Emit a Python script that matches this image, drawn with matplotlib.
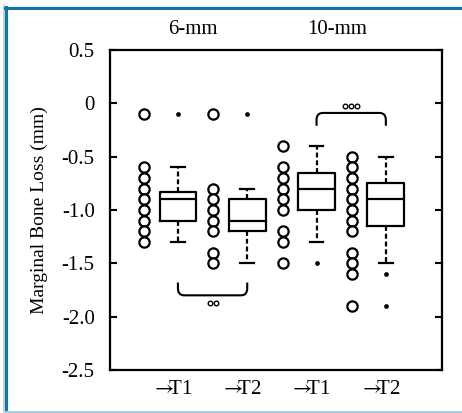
import matplotlib
matplotlib.use("Agg")
import matplotlib.pyplot as plt
from matplotlib.path import Path
from matplotlib.patches import PathPatch
from matplotlib.lines import Line2D

plt.rcParams['font.family'] = ['Liberation Serif', 'DejaVu Serif']
plt.rcParams['mathtext.fontset'] = 'stix'

# ---- data ----
groups = ["6-mm", "10-mm"]
tick_labels = [r"$\rightarrow\!\!\!$T1", r"$\rightarrow\!\!\!$T2",
               r"$\rightarrow\!\!\!$T1", r"$\rightarrow\!\!\!$T2"]

# raw value dot columns (open circles)
dots_6_T1 = [-0.1, -0.6, -0.7, -0.8, -0.9, -1.0, -1.1, -1.2, -1.3]
dots_6_T2 = [-0.1, -0.8, -0.9, -1.0, -1.1, -1.2, -1.4, -1.5]
dots_10_T1 = [-0.4, -0.6, -0.7, -0.8, -0.9, -1.0, -1.2, -1.3, -1.5]
dots_10_T2 = [-0.5, -0.6, -0.7, -0.8, -0.9, -1.0, -1.1, -1.2, -1.4, -1.5, -1.6, -1.9]

# box statistics: whislo, q1, med, q3, whishi, fliers
box_whislo = [-1.3, -1.5, -1.3, -1.5]
box_q1 = [-1.10, -1.20, -1.00, -1.15]
box_med = [-0.90, -1.10, -0.80, -0.90]
box_q3 = [-0.83, -0.90, -0.65, -0.75]
box_whishi = [-0.60, -0.80, -0.40, -0.50]
box_fliers = [[-0.1], [-0.1], [-1.5], [-1.6, -1.9]]

# significance marks (number of small circles)
sig_6_count = 2
sig_10_count = 3

yticks = [0.5, 0, -0.5, -1.0, -1.5, -2.0, -2.5]
ytick_labels = ["0.5", "0", "-0.5", "-1.0", "-1.5", "-2.0", "-2.5"]

# ---- figure ----
fig = plt.figure(figsize=(4.62, 4.13), dpi=100)
ax = fig.add_axes([110/462, 1-370/413, 332/462, 320/413])

positions = [1, 2, 3, 4]
dot_offset = 0.49
stats = []
for i in range(4):
    stats.append(dict(whislo=box_whislo[i], q1=box_q1[i], med=box_med[i],
                      q3=box_q3[i], whishi=box_whishi[i], fliers=box_fliers[i]))

lw = 1.6
ax.bxp(stats, positions=positions, widths=0.53, showfliers=True,
       boxprops=dict(color='black', linewidth=lw),
       medianprops=dict(color='black', linewidth=lw),
       whiskerprops=dict(color='black', linewidth=lw, linestyle=(0, (2.2, 1.3))),
       capprops=dict(color='black', linewidth=lw),
       capwidths=0.2,
       flierprops=dict(marker='o', markerfacecolor='black', markeredgecolor='black',
                       markersize=2.4, linestyle='none'))

for pos, vals in zip(positions, [dots_6_T1, dots_6_T2, dots_10_T1, dots_10_T2]):
    ax.plot([pos - dot_offset] * len(vals), vals, linestyle='none', marker='o',
            markersize=7.4, markerfacecolor='white', markeredgecolor='black',
            markeredgewidth=1.6)

def bracket(x1, x2, y_end, y_bar, r=0.09, ry=None):
    if ry is None:
        ry = (y_bar - y_end) * 0.55
    verts = [(x1, y_end), (x1, y_bar - ry), (x1, y_bar), (x1 + r, y_bar),
             (x2 - r, y_bar), (x2, y_bar), (x2, y_bar - ry), (x2, y_end)]
    codes = [Path.MOVETO, Path.LINETO, Path.CURVE3, Path.CURVE3,
             Path.LINETO, Path.CURVE3, Path.CURVE3, Path.LINETO]
    ax.add_patch(PathPatch(Path(verts, codes), facecolor='none',
                           edgecolor='black', linewidth=1.5))

def sig_marks(xc, y, n, step=0.085):
    xs = [xc + (k - (n - 1) / 2) * step for k in range(n)]
    ax.plot(xs, [y] * n, linestyle='none', marker='o', markersize=3.3,
            markerfacecolor='white', markeredgecolor='black', markeredgewidth=1.0)

bracket(1.0, 2.0, -1.68, -1.80)
sig_marks(1.5, -1.875, sig_6_count)
bracket(3.0, 4.0, -0.21, -0.09)
sig_marks(3.5, -0.025, sig_10_count)

ax.set_xlim(0.02, 4.81)
ax.set_ylim(-2.5, 0.5)
ax.set_yticks(yticks)
ax.set_yticklabels(ytick_labels, fontsize=15)
ax.set_xticks([p - 0.09 for p in positions])
ax.set_xticklabels(tick_labels, fontsize=15)
ax.tick_params(axis='x', length=0, pad=7)
ax.tick_params(axis='y', direction='in', length=5, width=1.5, right=True, pad=11)
for s in ax.spines.values():
    s.set_linewidth(1.6)

ax.set_ylabel("Marginal Bone Loss (mm)", fontsize=14, labelpad=10)

ax.text(1.22, 1.065, groups[0], transform=ax.get_xaxis_transform(),
        ha='center', va='center', fontsize=15)
ax.text(3.3, 1.065, groups[1], transform=ax.get_xaxis_transform(),
        ha='center', va='center', fontsize=15)

# outer frame
W, H = 462, 413
fig.add_artist(Line2D([3.5/W, 3.5/W], [0, 1 - 5/H], transform=fig.transFigure,
                      color='#a9cfe3', linewidth=1.2))
fig.add_artist(Line2D([6/W, 6/W], [2/H, 1 - 7/H], transform=fig.transFigure,
                      color='#0e76a8', linewidth=2.2))
fig.add_artist(Line2D([5/W, 1], [1 - 7.5/H, 1 - 7.5/H], transform=fig.transFigure,
                      color='#0e76a8', linewidth=2.2))
fig.add_artist(Line2D([5/W, 1], [1.5/H, 1.5/H], transform=fig.transFigure,
                      color='#a9cfe3', linewidth=1.5))

fig.savefig("out.png", dpi=100)
